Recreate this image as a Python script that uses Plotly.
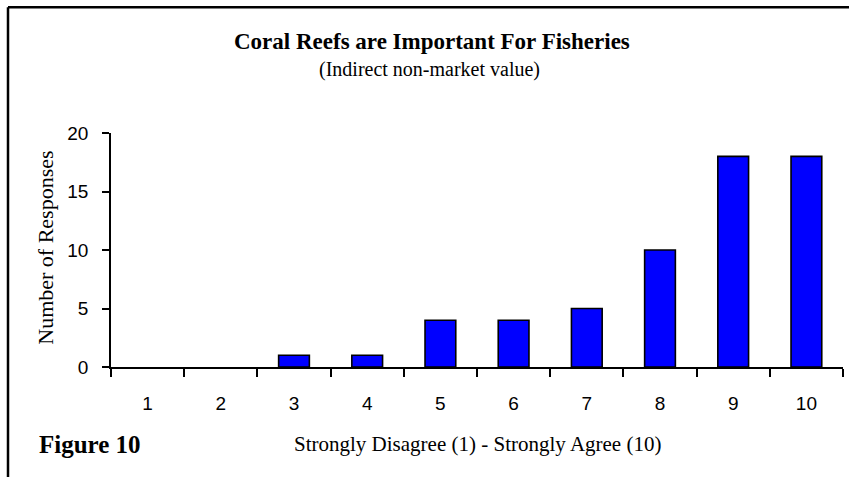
import plotly.graph_objects as go

# Survey answers: agreement score (1-10) and the number of responses for each
scores = ["1", "2", "3", "4", "5", "6", "7", "8", "9", "10"]
responses = [0, 0, 1, 1, 4, 4, 5, 10, 18, 18]
y_ticks = [0, 5, 10, 15, 20]

W, H = 849, 477
L, R, T, B = 111, 6, 133, 109.5
PW, PH = W - L - R, H - T - B


def px(x):
    """pixel x -> paper x"""
    return (x - L) / PW


def py(y):
    """pixel y (from top) -> paper y"""
    return (H - B - y) / PH


serif = "Liberation Serif, Times New Roman, serif"
sans = "Liberation Sans, Arial, sans-serif"

# empty categories get no outline so nothing is drawn on the axis
outline_widths = [1.6 if v > 0 else 0 for v in responses]

fig = go.Figure(
    go.Bar(
        x=scores,
        y=responses,
        width=0.42,
        marker=dict(color="#0000FF", line=dict(color="black", width=outline_widths)),
    )
)

fig.update_layout(
    width=W,
    height=H,
    margin=dict(l=L, r=R, t=T, b=B, pad=0),
    paper_bgcolor="white",
    plot_bgcolor="white",
    showlegend=False,
)

fig.update_xaxes(
    type="category",
    range=[-0.5, 9.5],
    showgrid=False,
    zeroline=False,
    showline=True,
    linecolor="black",
    linewidth=1.6,
    ticks="outside",
    tickson="boundaries",
    ticklen=8,
    tickwidth=1.6,
    tickcolor="black",
    ticklabelstandoff=18,
    tickfont=dict(family=sans, size=19, color="black"),
)

fig.update_yaxes(
    range=[0, 20],
    tickvals=y_ticks,
    showgrid=False,
    zeroline=False,
    showline=True,
    linecolor="black",
    linewidth=1.6,
    ticks="outside",
    ticklen=7,
    tickwidth=1.6,
    tickcolor="black",
    ticklabelstandoff=10,
    tickfont=dict(family=sans, size=19, color="black"),
)

# Frame lines (top and left edges)
fig.add_shape(type="line", xref="paper", yref="paper",
              x0=px(8), y0=py(7), x1=px(W + 5), y1=py(7),
              line=dict(color="black", width=2.5))
fig.add_shape(type="line", xref="paper", yref="paper",
              x0=px(8), y0=py(7), x1=px(8), y1=py(H + 5),
              line=dict(color="black", width=2.5))

annotations = [
    dict(text="<b>Coral Reefs are Important For Fisheries</b>", x=px(432), y=py(41),
         font=dict(family=serif, size=23, color="black")),
    dict(text="(Indirect non-market value)", x=px(429.5), y=py(69),
         font=dict(family=serif, size=20, color="black")),
    dict(text="Number of Responses", x=px(46), y=py(248), textangle=-90,
         font=dict(family=serif, size=22, color="black")),
    dict(text="Strongly Disagree (1) - Strongly Agree (10)", x=px(477), y=py(445),
         font=dict(family=serif, size=21, color="black")),
    dict(text="<b>Figure 10</b>", x=px(37), y=py(445), xanchor="left",
         font=dict(family=serif, size=25, color="black")),
]
for a in annotations:
    a.setdefault("xanchor", "center")
    fig.add_annotation(xref="paper", yref="paper", yanchor="middle",
                       showarrow=False, **a)

fig.write_html("out.html")
